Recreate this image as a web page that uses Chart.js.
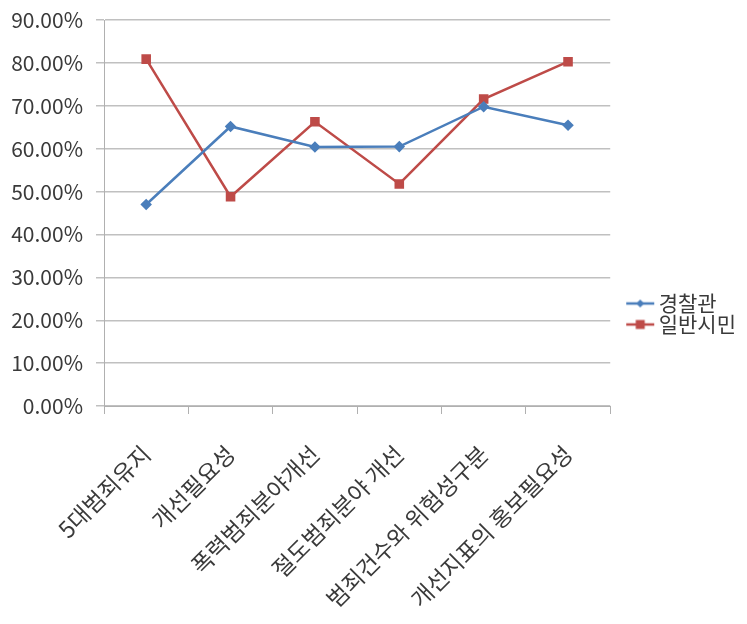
<!DOCTYPE html>
<html><head><meta charset="utf-8">
<script src="https://cdn.jsdelivr.net/npm/chart.js@4/dist/chart.umd.min.js"></script>
<style>html,body{margin:0;padding:0;background:#fff}#wrap{width:747px;height:624px}</style>
</head><body><div id="wrap"><canvas id="c" width="747" height="624"></canvas></div>
<script>
const categories = ["5대범죄유지","개선필요성","폭력범죄분야개선","절도범죄분야 개선","범죄건수와 위험성구분","개선지표의 홍보필요성"];
const police = [47.0, 65.2, 60.4, 60.5, 69.8, 65.5];
const citizens = [80.9, 48.8, 66.3, 51.8, 71.6, 80.3];
const seriesNames = ["경찰관","일반시민"];
const yTicks = [0,10,20,30,40,50,60,70,80,90];

const BLUE = "#4a7ebb", RED = "#be4b48";
const FONT = "'Noto Sans CJK KR', 'Noto Sans', sans-serif";
const TEXT = "#3a3a3a";

// legend icon: line with marker, drawn into a wider transparent image
function legendIcon(color, shape){
  const c = document.createElement('canvas'); c.width = 60; c.height = 14;
  const g = c.getContext('2d');
  g.strokeStyle = color; g.lineWidth = 2.5;
  g.beginPath(); g.moveTo(27,7); g.lineTo(55,7); g.stroke();
  g.fillStyle = color;
  const cx = 41;
  if (shape === 'diamond'){ g.beginPath(); g.moveTo(cx,3); g.lineTo(cx+4,7); g.lineTo(cx,11); g.lineTo(cx-4,7); g.closePath(); g.fill(); }
  else { g.fillRect(cx-4.5,2.5,9,9); }
  return c;
}

new Chart(document.getElementById('c'), {
  type: 'line',
  data: {
    labels: categories,
    datasets: [
      {label: seriesNames[0], data: police, borderColor: BLUE, backgroundColor: BLUE, borderWidth: 2.5,
       pointStyle: 'rectRot', pointRadius: 4, pointHoverRadius: 4, tension: 0},
      {label: seriesNames[1], data: citizens, borderColor: RED, backgroundColor: RED, borderWidth: 2.5,
       pointStyle: 'rect', pointRadius: 5, pointHoverRadius: 5, tension: 0}
    ]
  },
  options: {
    responsive: false, animation: false,
    layout: {padding: {top: 10, left: 4, right: 1, bottom: 6}},
    plugins: {
      tooltip: {enabled: false},
      legend: {
        position: 'right',
        labels: {
          font: {family: FONT, size: 21, lineHeight: 1.0}, color: TEXT,
          usePointStyle: true, pointStyleWidth: 38, padding: 0,
          generateLabels: (chart) => chart.data.datasets.map((d, i) => ({
            text: d.label, fillStyle: d.borderColor, strokeStyle: d.borderColor,
            pointStyle: legendIcon(d.borderColor, i === 0 ? 'diamond' : 'square'),
            datasetIndex: i, hidden: false, fontColor: TEXT
          }))
        }
      }
    },
    scales: {
      x: {
        offset: true,
        grid: {offset: true, drawOnChartArea: false, color: '#b0b0b0', tickLength: 8},
        border: {color: '#b0b0b0', width: 1},
        ticks: {font: {family: FONT, size: 23}, color: TEXT, padding: 26, maxRotation: 45, minRotation: 45, autoSkip: false},
        afterFit: (s) => { s.height = 212; }
      },
      y: {
        min: 0, max: 90,
        afterBuildTicks: (s) => { s.ticks = yTicks.map(v => ({value: v})); },
        grid: {color: '#c0c0c0', tickLength: 8, lineWidth: 1.5},
        border: {color: '#b0b0b0', width: 1},
        ticks: {font: {family: FONT, size: 21, lineHeight: 0.68}, color: TEXT, padding: 13, callback: (v) => v.toFixed(2) + '%'},
        afterFit: (s) => { s.width = 100; }
      }
    }
  }
});
</script>
</body></html>
